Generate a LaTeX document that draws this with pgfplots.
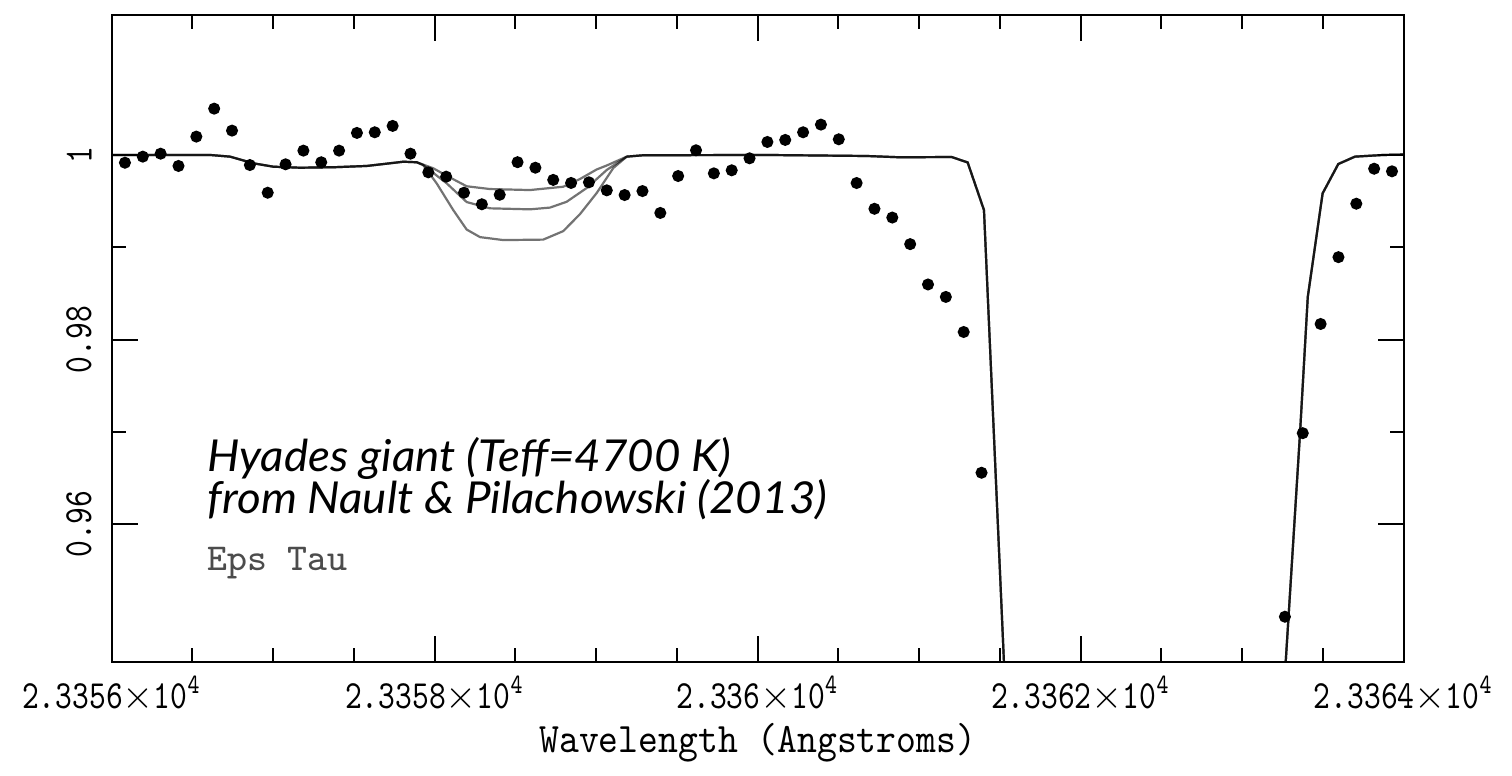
\documentclass[border=0pt]{standalone}
\usepackage{pgfplots}
\pgfplotsset{compat=1.18}
\usepackage{fontspec}
\newfontfamily\tickfont[FakeStretch=0.8]{Latin Modern Mono}
\newfontfamily\labfont[FakeStretch=0.9]{Latin Modern Mono}
\newfontfamily\epsfont{Latin Modern Mono}
\newfontfamily\annfont[FakeStretch=1.04]{Lato}

\pgfplotstableread{
x y
23356.082 0.99916
23356.1925 0.99982
23356.303 1.00014
23356.4135 0.99881
23356.524 1.00199
23356.6345 1.00502
23356.745 1.00264
23356.8555 0.99891
23356.966 0.99591
23357.0765 0.99899
23357.187 1.00047
23357.2975 0.99921
23357.408 1.00047
23357.5185 1.00239
23357.629 1.00246
23357.7395 1.00315
23357.850 1.00014
23357.9605 0.99812
23358.071 0.99765
23358.1815 0.99591
23358.292 0.99466
23358.4025 0.99569
23358.513 0.99922
23358.6235 0.99862
23358.734 0.99730
23358.8445 0.99697
23358.955 0.99704
23359.0655 0.99617
23359.176 0.99566
23359.2865 0.99609
23359.397 0.99372
23359.5075 0.99772
23359.618 1.00051
23359.7285 0.99801
23359.839 0.99834
23359.9495 0.99964
23360.060 1.00141
23360.1705 1.00163
23360.281 1.00246
23360.3915 1.00329
23360.502 1.00170
23360.6125 0.99696
23360.723 0.99417
23360.8335 0.99322
23360.944 0.99034
23361.0545 0.98597
23361.165 0.98462
23361.2755 0.98082
23361.386 0.96557
23363.2645 0.94997
23363.375 0.96986
23363.4855 0.98169
23363.596 0.98893
23363.7065 0.99472
23363.817 0.99851
23363.9275 0.99823
}\obsdata

\pgfplotstableread{
x y
23356.000 1.00000
23356.609 1.00000
23356.733 0.99982
23356.877 0.99910
23357.001 0.99873
23357.166 0.99862
23357.372 0.99867
23357.579 0.99881
23357.723 0.99910
23357.806 0.99927
23357.889 0.99921
23357.991 0.99856
23358.074 0.99775
23358.198 0.99661
23358.342 0.99631
23358.590 0.99620
23358.796 0.99656
23358.900 0.99740
23359.003 0.99843
23359.065 0.99886
23359.189 0.99982
23359.292 0.99997
23360.056 1.00000
23360.675 0.99989
23360.881 0.99975
23361.201 0.99978
23361.300 0.99919
23361.401 0.99403
23361.525 0.94498
23361.588 0.92000
23363.183 0.92000
23363.269 0.94498
23363.358 0.96986
23363.406 0.98462
23363.498 0.99584
23363.595 0.99902
23363.698 0.99982
23363.874 1.00000
23364.000 1.00005
}\modelA

\pgfplotstableread{
x y
23356.000 1.00000
23356.609 1.00000
23356.733 0.99982
23356.877 0.99910
23357.001 0.99873
23357.166 0.99862
23357.372 0.99867
23357.579 0.99881
23357.723 0.99910
23357.806 0.99927
23357.889 0.99921
23357.929 0.99891
23358.074 0.99693
23358.198 0.99490
23358.342 0.99422
23358.590 0.99411
23358.714 0.99430
23358.817 0.99493
23358.941 0.99642
23359.065 0.99837
23359.189 0.99982
23359.292 0.99997
23360.056 1.00000
23360.675 0.99989
23360.881 0.99975
23361.201 0.99978
23361.300 0.99919
23361.401 0.99403
23361.525 0.94498
23361.588 0.92000
23363.183 0.92000
23363.269 0.94498
23363.358 0.96986
23363.406 0.98462
23363.498 0.99584
23363.595 0.99902
23363.698 0.99982
23363.874 1.00000
23364.000 1.00005
}\modelB

\pgfplotstableread{
x y
23356.000 1.00000
23356.609 1.00000
23356.733 0.99982
23356.877 0.99910
23357.001 0.99873
23357.166 0.99862
23357.372 0.99867
23357.579 0.99881
23357.723 0.99910
23357.806 0.99927
23357.889 0.99921
23357.929 0.99891
23358.012 0.99693
23358.115 0.99403
23358.198 0.99192
23358.281 0.99110
23358.425 0.99078
23358.672 0.99083
23358.796 0.99175
23358.900 0.99360
23359.003 0.99588
23359.106 0.99859
23359.189 0.99982
23359.292 0.99997
23360.056 1.00000
23360.675 0.99989
23360.881 0.99975
23361.201 0.99978
23361.300 0.99919
23361.401 0.99403
23361.525 0.94498
23361.588 0.92000
23363.183 0.92000
23363.269 0.94498
23363.358 0.96986
23363.406 0.98462
23363.498 0.99584
23363.595 0.99902
23363.698 0.99982
23363.874 1.00000
23364.000 1.00005
}\modelC

\begin{document}
\begin{tikzpicture}
\begin{axis}[
  scale only axis,
  width=323pt, height=161.75pt,
  xmin=23356, xmax=23364,
  ymin=0.94507, ymax=1.01517,
  xtick={23356,23358,23360,23362,23364},
  xticklabels={2.3356$\times$10\textsuperscript{4},2.3358$\times$10\textsuperscript{4},2.336$\times$10\textsuperscript{4},2.3362$\times$10\textsuperscript{4},2.3364$\times$10\textsuperscript{4}},
  minor x tick num=3,
  ytick={0.96,0.98,1},
  yticklabels={0.96,0.98,1},
  minor y tick num=1,
  scaled x ticks=false, scaled y ticks=false,
  tick align=inside,
  major tick length=6.5pt, minor tick length=3.5pt,
  axis line style={line width=0.6pt},
  every tick/.style={black, line width=0.5pt},
  ticklabel style={font=\tickfont\fontsize{10}{12}\selectfont},
  yticklabel style={rotate=90, anchor=south},
  yticklabel shift=1.5pt,
  xlabel={Wavelength (Angstroms)},
  xlabel style={font=\labfont\fontsize{10.5}{12}\selectfont, yshift=4pt},
]
\addplot[black, draw opacity=0.55, line width=0.55pt] table[x=x,y=y] {\modelA};
\addplot[black, draw opacity=0.55, line width=0.55pt] table[x=x,y=y] {\modelB};
\addplot[black, draw opacity=0.55, line width=0.55pt] table[x=x,y=y] {\modelC};
\addplot[only marks, mark=*, mark size=1.3pt, black] table[x=x,y=y] {\obsdata};
\node[anchor=base west, inner sep=0pt, font=\annfont\itshape\fontsize{11}{12}\selectfont] at (axis cs:23356.59,0.96570) {Hyades giant (Teff=4700 K)};
\node[anchor=base west, inner sep=0pt, font=\annfont\itshape\fontsize{11}{12}\selectfont] at (axis cs:23356.59,0.96115) {from Nault \& Pilachowski (2013)};
\node[anchor=base west, inner sep=0pt, text=black!70, font=\epsfont\fontsize{9.5}{12}\selectfont] at (axis cs:23356.59,0.95500) {Eps Tau};
\end{axis}
\path (current axis.south west) ++(-27.93pt,-27.5pt) coordinate (bbA);
\path (current axis.north east) ++(27.08pt,3.75pt) coordinate (bbB);
\path (bbA) rectangle (bbB);
\end{tikzpicture}
\end{document}
